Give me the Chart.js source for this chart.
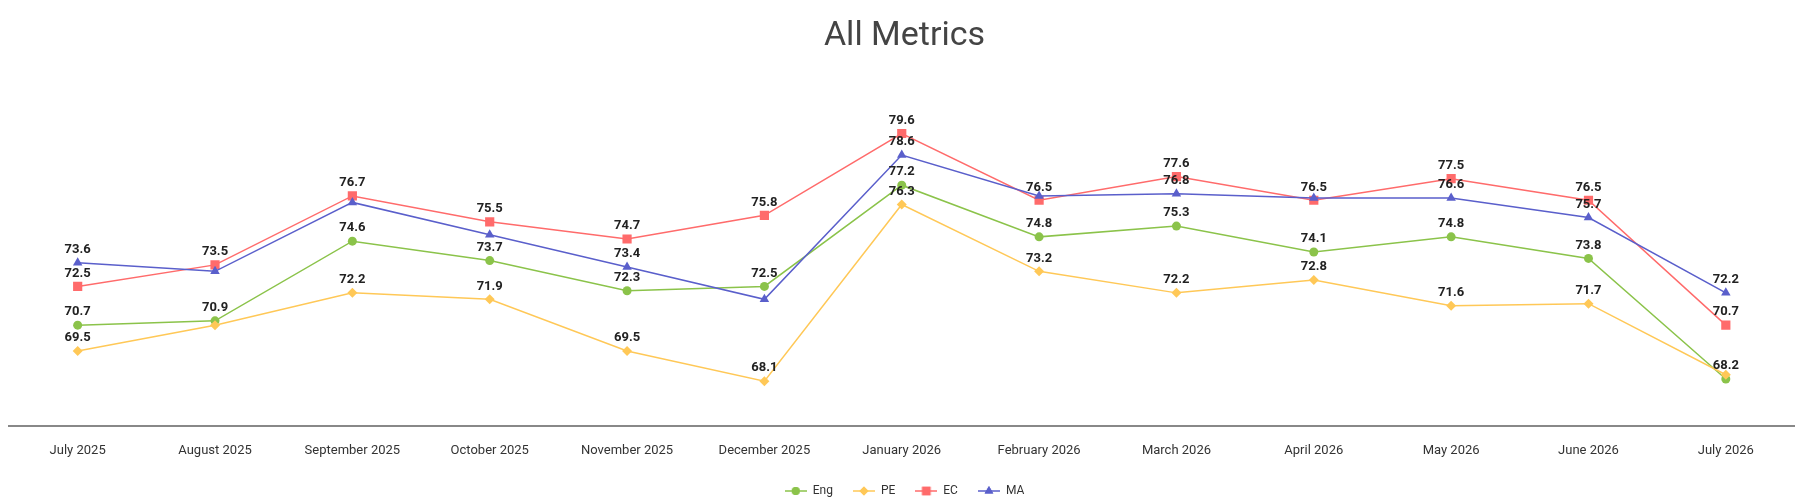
<!DOCTYPE html>
<html>
<head>
<meta charset="utf-8">
<script src="https://cdn.jsdelivr.net/npm/chart.js@4.4.1/dist/chart.umd.min.js"></script>
<style>
  html, body { margin:0; padding:0; background:#fff; }
  #wrap { width:1801px; height:500px; position:relative; }
</style>
</head>
<body>
<div id="wrap"><canvas id="chart"></canvas></div>
<script>
/* ── DATA ──────────────────────────────── */
const MONTHS = ['July 2025','August 2025','September 2025','October 2025','November 2025','December 2025',
                'January 2026','February 2026','March 2026','April 2026','May 2026','June 2026','July 2026'];

const ENG = [70.7, 70.9, 74.6, 73.7, 72.3, 72.5, 77.2, 74.8, 75.3, 74.1, 74.8, 73.8, 68.2];
const PE  = [69.5, 70.7, 72.2, 71.9, 69.5, 68.1, 76.3, 73.2, 72.2, 72.8, 71.6, 71.7, 68.4];
const EC  = [72.5, 73.5, 76.7, 75.5, 74.7, 75.8, 79.6, 76.5, 77.6, 76.5, 77.5, 76.5, 70.7];
const MA  = [73.6, 73.2, 76.4, 74.9, 73.4, 71.9, 78.6, 76.7, 76.8, 76.6, 76.6, 75.7, 72.2];

const Y_MIN = 66, Y_MAX = 82;

/* ── STYLE ─────────────────────────────── */
const SERIES = [
  { label:'Eng', data:ENG, color:'#8BC34A', style:'circle',   radius:4.5 },
  { label:'PE',  data:PE,  color:'#FFC857', style:'rectRot',  radius:5   },
  { label:'EC',  data:EC,  color:'#FF6B6B', style:'rect',     radius:6.5 },
  { label:'MA',  data:MA,  color:'#5A5FCB', style:'triangle', radius:5.5 },
];

// small line+marker swatch for the legend
function legendSwatch(s) {
  const c = document.createElement('canvas');
  c.width = 22; c.height = 12;
  const ctx = c.getContext('2d');
  ctx.strokeStyle = s.color; ctx.lineWidth = 1.5;
  ctx.beginPath(); ctx.moveTo(0, 6); ctx.lineTo(22, 6); ctx.stroke();
  ctx.fillStyle = s.color;
  Chart.helpers.drawPoint(ctx, { pointStyle:s.style, radius:s.radius - 0.5, borderWidth:0 }, 11, 6);
  ctx.fill();
  return c;
}

/* ── VALUE LABELS (hide ones that collide) ── */
const valueLabels = {
  id: 'valueLabels',
  afterDatasetsDraw(chart) {
    const ctx = chart.ctx;
    const placed = [];
    ctx.save();
    ctx.font = 'bold 13px Roboto';
    ctx.fillStyle = '#222';
    ctx.textAlign = 'center';
    ctx.textBaseline = 'middle';
    chart.data.datasets.forEach((ds, di) => {
      const meta = chart.getDatasetMeta(di);
      meta.data.forEach((pt, i) => {
        const txt = ds.data[i].toFixed(1);
        const w = ctx.measureText(txt).width;
        const cx = pt.x, cy = pt.y - 13;
        const box = { l:cx - w/2, r:cx + w/2, t:cy - 7.5, b:cy + 7.5 };
        const hit = placed.some(p => box.l < p.r && box.r > p.l && box.t < p.b && box.b > p.t);
        if (hit) return;
        placed.push(box);
        ctx.fillText(txt, cx, cy);
      });
    });
    ctx.restore();
  }
};

new Chart(document.getElementById('chart'), {
  type: 'line',
  data: {
    labels: MONTHS,
    datasets: SERIES.map((s, i) => ({
      label: s.label,
      data: s.data,
      borderColor: s.color,
      backgroundColor: s.color,
      borderWidth: 1.5,
      pointStyle: s.style,
      pointRadius: s.radius,
      pointBorderWidth: 0,
      pointBackgroundColor: s.color,
      tension: 0,
      order: SERIES.length - i,
    }))
  },
  options: {
    responsive: true,
    maintainAspectRatio: false,
    animation: false,
    layout: { padding: { left:9, right:1, top:0, bottom:-7 } },
    plugins: {
      tooltip: { enabled:false },
      title: {
        display: true,
        text: 'All Metrics',
        color: '#444',
        font: { family:'Roboto', size:34, weight:'normal' },
        padding: { top:16, bottom:25 }
      },
      legend: {
        position: 'bottom',
        labels: {
          usePointStyle: true,
          pointStyleWidth: 22,
          boxHeight: 12,
          padding: 20,
          color: '#333',
          font: { family:'Roboto', size:12 },
          generateLabels(chart) {
            return SERIES.map((s, i) => ({
              text: s.label,
              pointStyle: legendSwatch(s),
              fillStyle: s.color,
              strokeStyle: s.color,
              lineWidth: 0,
              fontColor: '#333',
              hidden: false,
              datasetIndex: i
            }));
          }
        }
      }
    },
    scales: {
      x: {
        offset: true,
        grid: { display:false, drawTicks:false },
        border: { display:true, color:'#888', width:2 },
        ticks: { color:'#333', font:{ family:'Roboto', size:13 }, padding:17, maxRotation:0, autoSkip:false },
        afterFit(scale) { scale.height -= 11; }
      },
      y: {
        display: false,
        min: Y_MIN,
        max: Y_MAX
      }
    }
  },
  plugins: [valueLabels]
});
</script>
</body>
</html>
